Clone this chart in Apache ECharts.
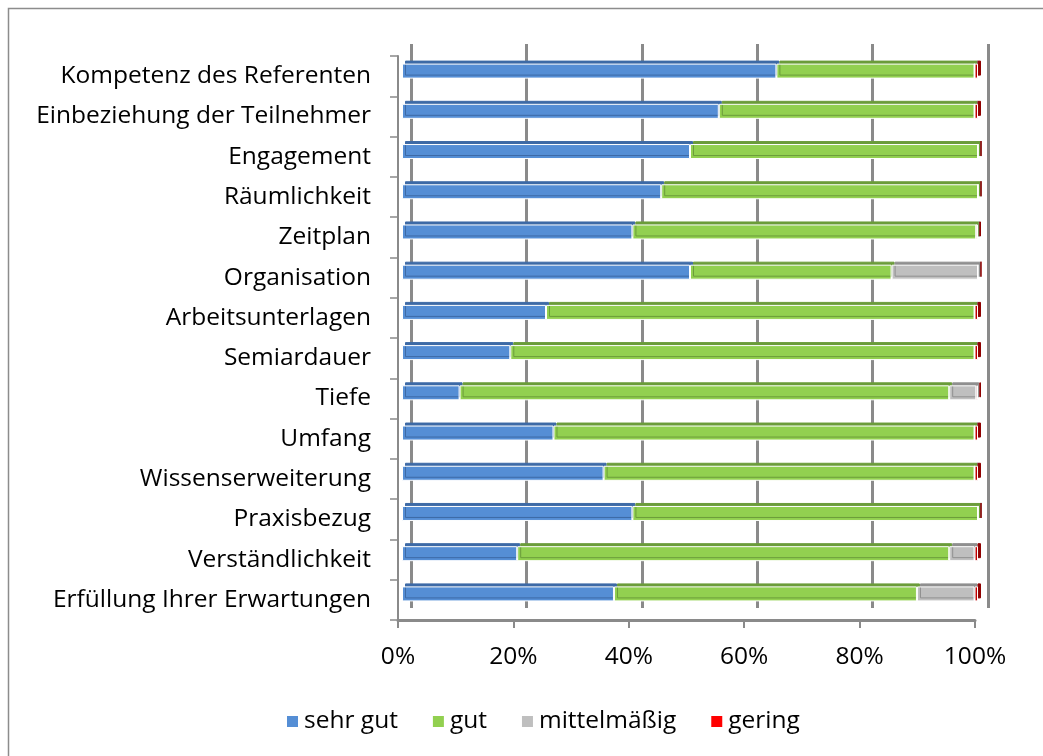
<!DOCTYPE html>
<html>
<head>
<meta charset="utf-8">
<script src="https://cdn.jsdelivr.net/npm/echarts@6/dist/echarts.min.js"></script>
<style>
html,body{margin:0;padding:0;background:#fff;}
#c{width:1043px;height:756px;}
</style>
</head>
<body>
<div id="c"></div>
<script>
const categories = [
  'Kompetenz des Referenten',
  'Einbeziehung der Teilnehmer',
  'Engagement',
  'Räumlichkeit',
  'Zeitplan',
  'Organisation',
  'Arbeitsunterlagen',
  'Semiardauer',
  'Tiefe',
  'Umfang',
  'Wissenserweiterung',
  'Praxisbezug',
  'Verständlichkeit',
  'Erfüllung Ihrer Erwartungen'
];
const sehrGut     = [65, 55, 50, 45, 40, 50, 25, 18.8, 10, 26.3, 35, 40, 20, 36.8];
const gut         = [34.4, 44.4, 50, 55, 59.7, 35, 74.4, 80.6, 85, 73.1, 64.4, 60, 75, 52.6];
const mittelmaessig = [0, 0, 0, 0, 0, 15, 0, 0, 4.7, 0, 0, 0, 4.4, 10];
const gering      = [0.6, 0.6, 0, 0, 0.3, 0, 0.6, 0.6, 0.3, 0.6, 0.6, 0, 0.6, 0.6];
const xTicks = ['0%', '20%', '40%', '60%', '80%', '100%'];

const FONT = 'Open Sans';
// pick a font size so the longest-looking label has the reference width (~312px)
const cv = document.createElement('canvas').getContext('2d');
cv.font = '100px "' + FONT + '"';
const FS = Math.round(312 / cv.measureText('Kompetenz des Referenten').width * 100 * 2) / 2;

const chart = echarts.init(document.getElementById('c'), null, {renderer: 'canvas'});

function barSeries(name, data, color, topColor) {
  return {
    name: name, type: 'bar', stack: 'all', xAxisIndex: 1, yAxisIndex: 1,
    data: data, barWidth: 15,
    itemStyle: {
      color: color, borderColor: '#ffffff', borderWidth: 1,
      shadowColor: topColor, shadowBlur: 0, shadowOffsetX: 3, shadowOffsetY: -3
    },
    emphasis: {disabled: true}
  };
}

chart.setOption({
  animation: false,
  backgroundColor: '#ffffff',
  graphic: [{
    type: 'rect', shape: {x: 8.5, y: 8.5, width: 1100, height: 800},
    style: {fill: 'none', stroke: '#8c8c8c', lineWidth: 1.5}, z: 100
  }],
  grid: [
    {left: 411, right: 55, top: 44, bottom: 148},
    {left: 402, right: 65, top: 51, bottom: 142},
    {left: 398, right: 68, top: 56, bottom: 136}
  ],
  legend: {
    bottom: 17, left: 280,
    icon: 'rect', itemWidth: 13, itemHeight: 13, itemGap: 33,
    textStyle: {fontFamily: FONT, fontSize: FS, color: '#000'},
    data: ['sehr gut', 'gut', 'mittelmäßig', {name: 'gering', itemStyle: {color: '#ff0000'}}]
  },
  xAxis: [
    {gridIndex: 0, type: 'value', min: 0, max: 100, interval: 20,
     axisLine: {show: false}, axisTick: {show: false}, axisLabel: {show: false},
     splitLine: {show: true, lineStyle: {color: '#8a8a8a', width: 3}}},
    {gridIndex: 1, type: 'value', min: 0, max: 100, interval: 20,
     axisLine: {show: false}, axisTick: {show: false}, axisLabel: {show: false},
     splitLine: {show: false}},
    {gridIndex: 2, type: 'category', data: xTicks, boundaryGap: false,
     axisLine: {show: true, lineStyle: {color: '#8a8a8a', width: 3}},
     axisTick: {show: true, length: 8, lineStyle: {color: '#8a8a8a', width: 2}},
     axisLabel: {color: '#000', fontFamily: FONT, fontSize: FS, margin: 25},
     splitLine: {show: false}}
  ],
  yAxis: [
    {gridIndex: 0, type: 'category', data: categories, inverse: true, show: false},
    {gridIndex: 1, type: 'category', data: categories, inverse: true, show: false},
    {gridIndex: 2, type: 'category', data: categories, inverse: true,
     axisLine: {show: true, lineStyle: {color: '#8a8a8a', width: 2}},
     axisTick: {show: true, length: 8, lineStyle: {color: '#8a8a8a', width: 1.5}},
     axisLabel: {color: '#000', fontFamily: FONT, fontSize: FS, margin: 27},
     splitLine: {show: false}}
  ],
  series: [
    barSeries('sehr gut', sehrGut, '#558ed5', '#3d6aa6'),
    barSeries('gut', gut, '#92d050', '#6b9c3a'),
    barSeries('mittelmäßig', mittelmaessig, '#bfbfbf', '#8f8f8f'),
    barSeries('gering', gering, '#c00000', '#900000')
  ]
});
</script>
</body>
</html>
